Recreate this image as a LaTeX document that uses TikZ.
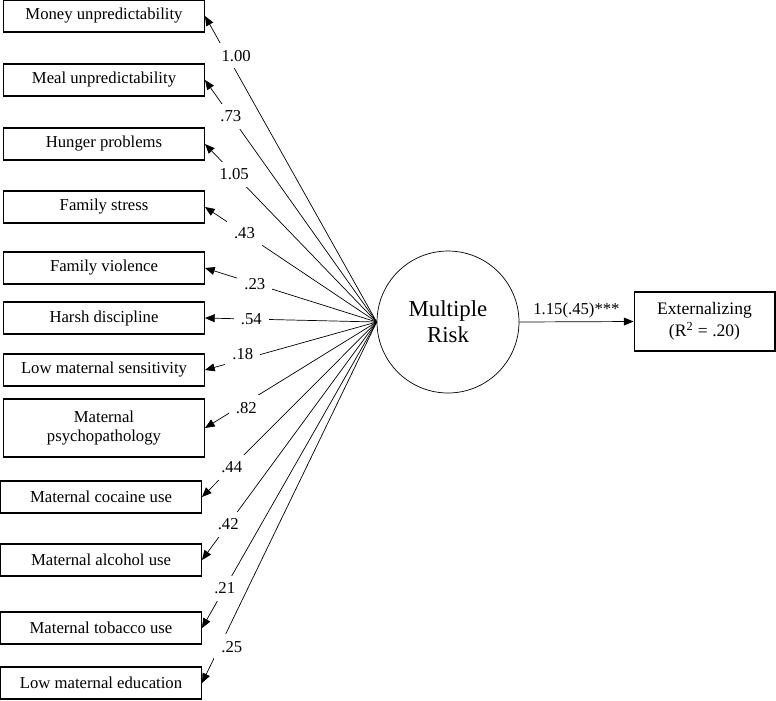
\documentclass[tikz,border=0pt]{standalone}
\usepackage{fontspec}
\setmainfont{Liberation Serif}
\usetikzlibrary{arrows.meta}

\begin{document}
\begin{tikzpicture}[x=0.02cm,y=-0.02cm,font=\fontsize{9.5}{11}\selectfont]
		\useasboundingbox (0,0) rectangle (776,700);
		\begin{scope}[every node/.style={draw,semithick,minimum width=4.02cm,minimum height=0.64cm,inner sep=1pt,align=center}]
			\node (MU) at (104,16) {Money unpredictability};
			\node (ML) at (104,80) {Meal unpredictability};
			\node (HP) at (104,144) {Hunger problems};
			\node (FS) at (104,207) {Family stress};
			\node (FV) at (104,268) {Family violence};
			\node (HD) at (104,318) {Harsh discipline};
			\node (LS) at (104,370) {Low maternal sensitivity};
			\node[minimum height=1.16cm] (MP) at (104,428) {Maternal\\psychopathology};
			\node (MC) at (101,497) {Maternal cocaine use};
			\node (MA) at (101,560) {Maternal alcohol use};
			\node (MT) at (101,628) {Maternal tobacco use};
			\node (LE) at (101,683) {Low maternal education};
			\node[minimum width=2.82cm,minimum height=1.18cm,font=\fontsize{10}{12.5}\selectfont] (EX) at (704.5,321.5) {Externalizing\\(R\textsuperscript{2} = .20)};
		\end{scope}
		\node[draw,circle,minimum size=2.84cm,font=\fontsize{13}{15}\selectfont,align=center] (MR) at (448,322) {Multiple\\Risk};
		\begin{scope}[>={Triangle[length=5.5pt,width=4.5pt]},
			every node/.style={fill=white,inner sep=4pt},
			every edge/.style={draw=black,thin}]
			\path [->] (MR.west) edge node[pos=.87,xshift=5] {1.00} (MU.east);
			\path [->] (MR.west) edge node[pos=.85] {.73} (ML.east);
			\path [->] (MR.west) edge node[pos=.83] {1.05} (HP.east);
			\path [->] (MR.west) edge node[pos=.77] {.43} (FS.east);
			\path [->] (MR.west) edge node[pos=.71] {.23} (FV.east);
			\path [->] (MR.west) edge node[pos=.73] {.54} (HD.east);
			\path [->] (MR.west) edge node[pos=.78,yshift=3] {.18} (LS.east);
			\path [->] (MR.west) edge node[pos=.81,xshift=5] {.82} (MP.east);
			\path [->] (MR.west) edge node[pos=.83] {.44} (MC.east);
			\path [->] (MR.west) edge node[pos=.85] {.42} (MA.east);
			\path [->] (MR.west) edge node[pos=.87] {.21} (MT.east);
			\path [->] (MR.west) edge node[pos=.9,xshift=7] {.25} (LE.east);
			\path [->] (MR.east) edge node[above,inner sep=2pt] {1.15(.45)***} (EX.west);
		\end{scope}
	\end{tikzpicture}
\end{document}
